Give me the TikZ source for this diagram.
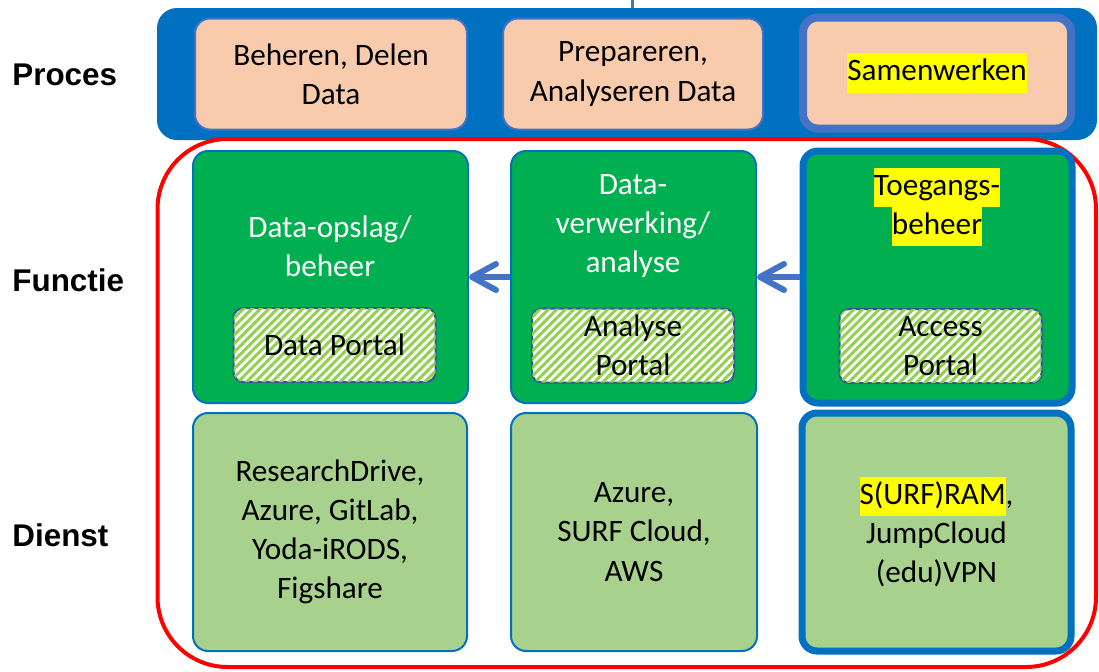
\documentclass[tikz,border=0pt]{standalone}
\usepackage{fontspec}
\setmainfont{Carlito}
\newfontfamily\labelfont{Liberation Sans}
\usepackage{tikz}
\usetikzlibrary{positioning, arrows.meta, patterns.meta}
\usepackage{xcolor}
\definecolor{bandblue}{RGB}{0, 112, 192}
\definecolor{softblue}{RGB}{68, 114, 196}
\definecolor{peach}{RGB}{248, 203, 173}
\definecolor{funcgreen}{RGB}{0, 176, 80}
\definecolor{dienstgreen}{RGB}{169, 209, 142}
\definecolor{hatchgreen}{RGB}{146, 208, 80}
\definecolor{portalblue}{RGB}{47, 85, 151}
\definecolor{markyellow}{RGB}{255, 255, 0}
\newcommand{\boxfont}{\fontsize{15.6}{19.6}\selectfont}
\newcommand{\hlt}[1]{{\setlength{\fboxsep}{0pt}\colorbox{markyellow}{\strut #1}}}

\begin{document}
\begin{tikzpicture}[x=0.5pt, y=-0.5pt,
    procbox/.style={draw=softblue, line width=1pt, fill=peach, rounded corners=7.5pt,
        minimum height=55.5pt, align=center, inner sep=0pt, font=\boxfont},
    funcbox/.style={draw=bandblue, line width=1pt, fill=funcgreen, rounded corners=7.5pt,
        minimum height=126pt, inner sep=0pt},
    dienstbox/.style={draw=bandblue, line width=1pt, fill=dienstgreen, rounded corners=7.5pt,
        minimum height=119pt, align=center, inner sep=0pt, font=\boxfont},
    portal/.style={draw=portalblue, line width=1pt, fill=white, rounded corners=5pt,
        postaction={pattern={Lines[angle=45, distance=3pt, line width=1.5pt]}, pattern color=hatchgreen},
        minimum width=101pt, minimum height=37pt, align=center, inner sep=0pt, font=\boxfont},
    functext/.style={text=white, align=center, inner sep=0pt, font=\boxfont},
    rowlabel/.style={anchor=west, inner sep=0pt, font=\labelfont\fontsize{15.7}{19}\selectfont\bfseries},
    flow/.style={draw=softblue, line width=3pt, -{Straight Barb[length=12pt, width=13pt, round]}}]
    \useasboundingbox (0,0) rectangle (1099,671);

    % Proces band
    \coordinate (feed) at (632,0);
    \node[fill=bandblue, rounded corners=10pt, minimum width=470pt, minimum height=66pt, inner sep=0pt] (band) at (627,74) {};
    \draw[softblue, line width=1.5pt] (feed) -- (band.north -| feed);

    % Red frame round Functie and Dienst
    \node[draw=red, line width=2pt, rounded corners=35pt, minimum width=469.25pt, minimum height=264pt, inner sep=0pt] (frame) at (626.75,403) {};

    % Row labels
    \node[rowlabel] (proces) at (12,75) {Proces};
    \node[rowlabel] (functie) at (12,280) {Functie};
    \node[rowlabel] (dienst) at (12,535) {Dienst};

    % Proces
    \node[procbox, minimum width=136pt] (beheren) at (331,74) {Beheren, Delen\\Data};
    \node[procbox, minimum width=130pt] (prepareren) at (633,74) {Prepareren,\\Analyseren Data};
    \node[procbox, minimum width=134pt, line width=4pt] (samen) at (937,73) {\hlt{Samenwerken}};

    % Functie
    \node[funcbox, minimum width=137.5pt] (opslag) at (330.5,277) {};
    \node[funcbox, minimum width=122.5pt] (verwerking) at (633.5,277) {};
    \node[funcbox, minimum width=134.5pt, line width=3.5pt] (toegang) at (937.5,277) {};
    \node[functext] (opslagtxt) at (330,246) {Data-opslag/\\beheer};
    \node[functext] (verwerkingtxt) at (633,226) {Data-\\verwerking/\\analyse};
    \node[functext, text=black] (toegangtxt) at (937,207) {\hlt{Toegangs-}\\\hlt{beheer}};
    \node[portal] (dataportal) at (334.5,345) {Data Portal};
    \node[portal] (analyseportal) at (633,345.5) {Analyse\\Portal};
    \node[portal] (accessportal) at (940.5,346) {Access\\Portal};

    % Arrows
    \draw[flow] (verwerking.west) -- (opslag.east);
    \draw[flow] (toegang.west) -- (verwerking.east);

    % Dienst
    \node[dienstbox, minimum width=137pt] (drive) at (330,532) {ResearchDrive,\\Azure, GitLab,\\Yoda-iRODS,\\Figshare};
    \node[dienstbox, minimum width=123pt] (cloud) at (634,532) {Azure,\\SURF Cloud,\\AWS};
    \node[dienstbox, minimum width=134.5pt, line width=3.5pt] (sram) at (936.5,532) {\hlt{S(URF)RAM},\\JumpCloud\\(edu)VPN};
\end{tikzpicture}
\end{document}
